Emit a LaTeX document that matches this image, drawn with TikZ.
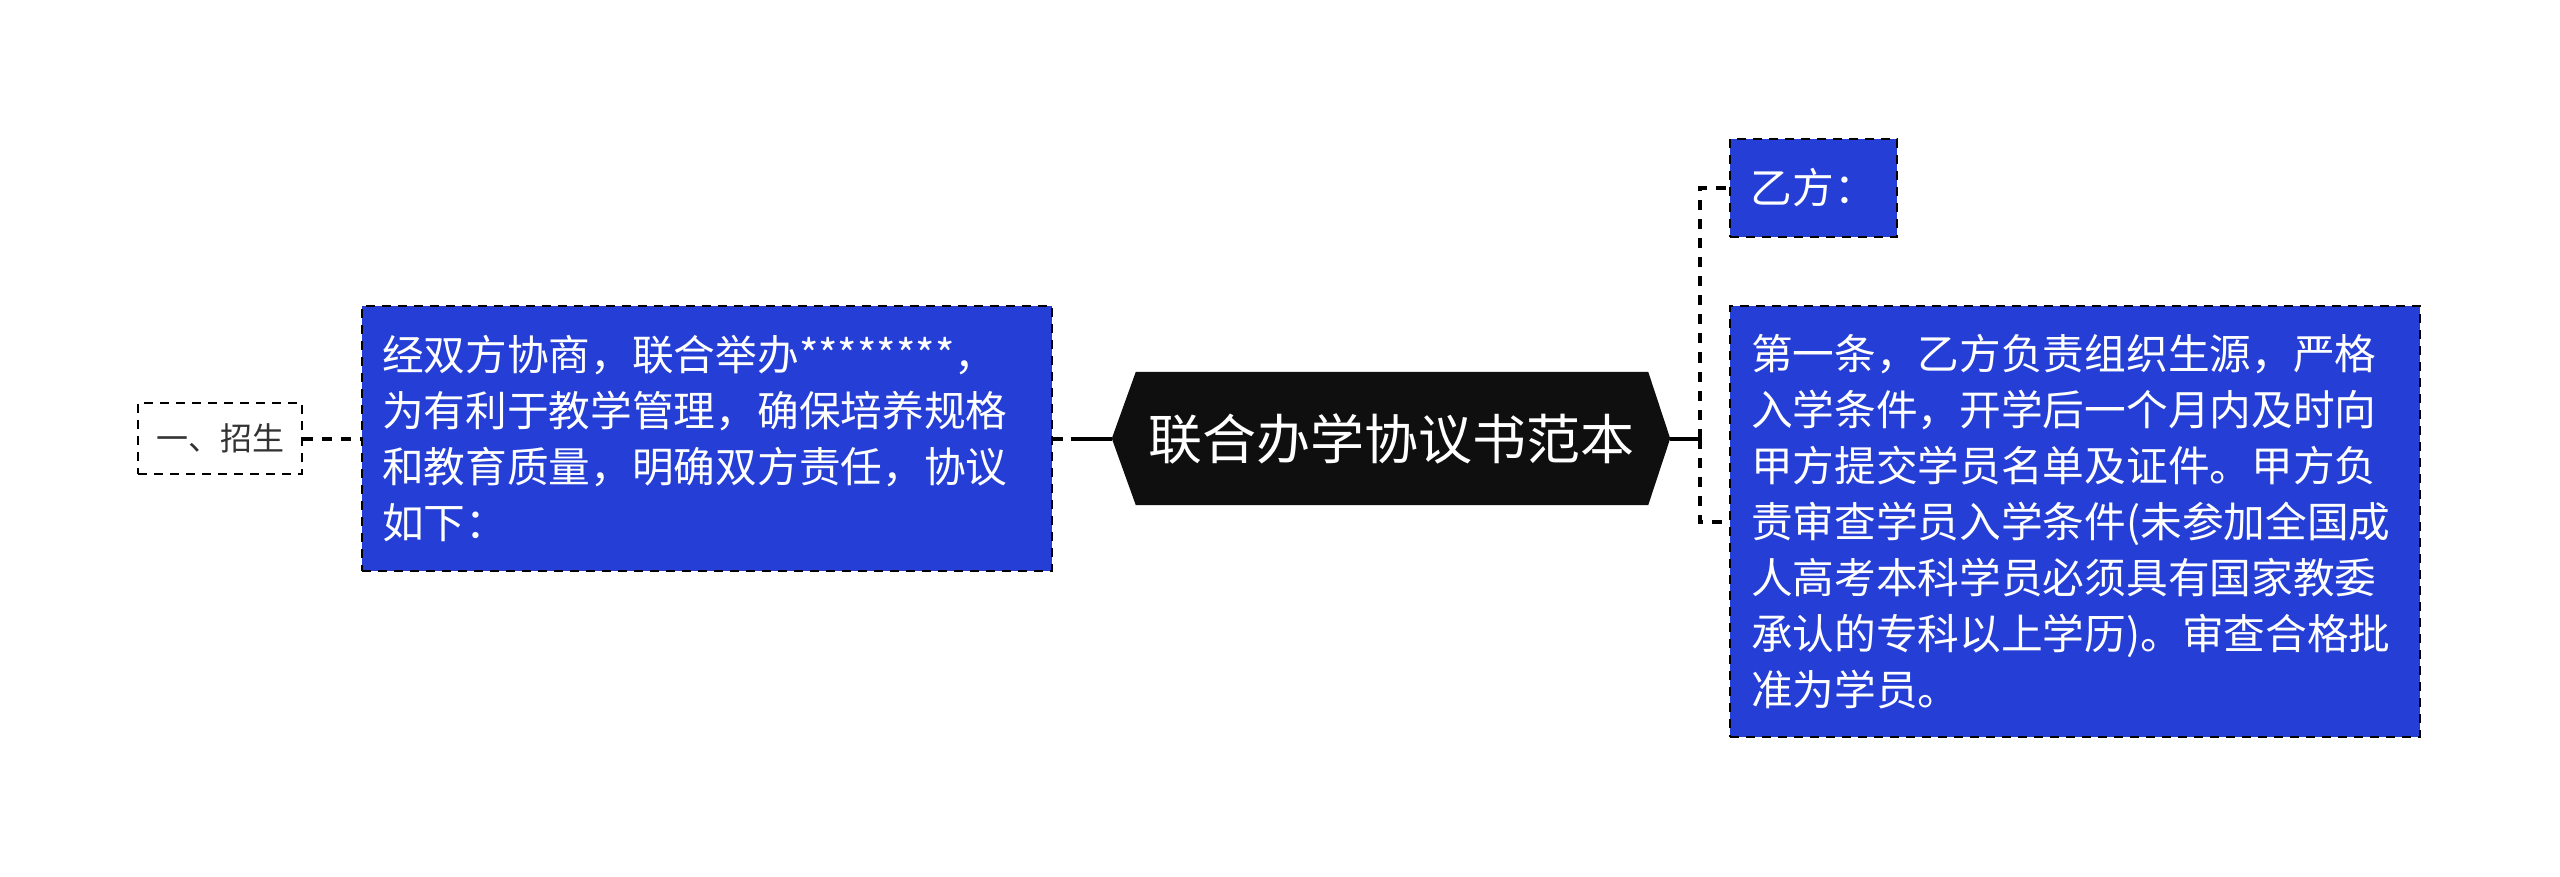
\documentclass[tikz,border=0pt]{standalone}
\usepackage{fontspec}
\setmainfont{Noto Sans CJK SC}
\usetikzlibrary{calc,backgrounds}
\definecolor{boxblue}{RGB}{36,62,214}
\definecolor{hexblack}{RGB}{15,15,15}
\definecolor{txtgray}{RGB}{51,51,51}
\tikzset{
  bluebox/.style={draw=black, fill=boxblue, line width=2.5pt, dash pattern=on 9pt off 7pt,
    text=white, font=\fontsize{41.7pt}{56pt}\selectfont, align=left, anchor=center},
  plainbox/.style={draw=black, fill=white, line width=2.5pt, dash pattern=on 9pt off 7pt,
    text=txtgray, font=\fontsize{32pt}{40pt}\selectfont, inner sep=0pt},
  dashlink/.style={draw=black, line width=4pt, dash pattern=on 10pt off 9pt},
  solidlink/.style={draw=black, line width=4pt},
}
\begin{document}
\begin{tikzpicture}[x=1pt,y=-1pt]
\useasboundingbox (0,0) rectangle (2560,877);
% hub
\node[inner sep=0pt, minimum width=558pt, minimum height=133pt, text=white,
  font=\fontsize{54pt}{60pt}\selectfont] (hub) at (1391,438.5) {联合办学协议书范本};
\begin{scope}[on background layer]
\fill[hexblack] (hub.west) -- ($(hub.north west)+(24,0)$) -- ($(hub.north east)+(-22,0)$)
  -- (hub.east) -- ($(hub.south east)+(-22,0)$) -- ($(hub.south west)+(24,0)$) -- cycle;
\end{scope}
% left side
\node[bluebox, inner xsep=20pt, inner ysep=0pt, text width=650pt, minimum height=265pt] (lbox) at (707,438.5)
  {经双方协商，联合举办********，\\为有利于教学管理，确保培养规格\\和教育质量，明确双方责任，协议\\如下：};
\node[plainbox, minimum width=164pt, minimum height=71pt] (zs) at (220,438.5) {一、招生};
% right side
\node[bluebox, inner xsep=0pt, inner ysep=0pt, minimum width=167pt, minimum height=98pt, align=center] (yf) at (1813.5,188) {乙方：};
\node[bluebox, inner xsep=21pt, inner ysep=0pt, text width=648pt, minimum height=431pt] (rbox) at (2075,521.5)
  {第一条，乙方负责组织生源，严格\\入学条件，开学后一个月内及时向\\甲方提交学员名单及证件。甲方负\\责审查学员入学条件(未参加全国成\\人高考本科学员必须具有国家教委\\承认的专科以上学历)。审查合格批\\准为学员。};
% connectors
\coordinate (cl) at (1071,438.5);
\coordinate (cr) at (1700,438.5);
\draw[solidlink] (hub.west) -- (cl);
\draw[dashlink] (lbox.east) -- (cl);
\draw[dashlink] (zs.east) -- (lbox.west);
\draw[solidlink] (hub.east) -- (cr);
\draw[dashlink] (cr) |- (yf.west);
\draw[dashlink] (cr) |- (rbox.west);
\end{tikzpicture}
\end{document}
